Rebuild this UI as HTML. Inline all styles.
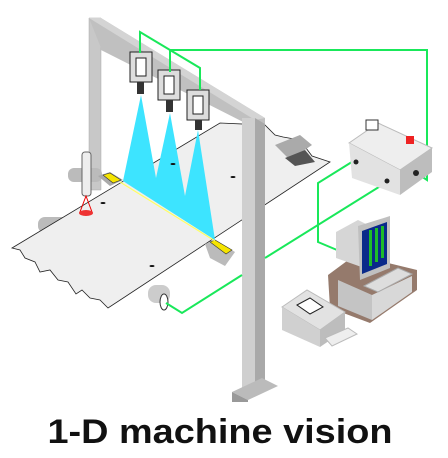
<!DOCTYPE html>
<html><head><meta charset="utf-8"><style>
html,body{margin:0;padding:0;background:#fff;width:448px;height:458px;overflow:hidden}
svg{display:block}
</style></head><body>
<svg width="448" height="458" viewBox="0 0 448 458">
<g>
  <polygon points="89,18 101,18 101,190 89,190" fill="#c8c8c8" stroke="#aaa" stroke-width="0.5"/>
  <polygon points="89,18 101,18 265,118 265,133 101,50 101,48" fill="#c0c0c0"/>
  <polygon points="89,18 101,18 265,118 255,120" fill="#d4d4d4"/>
</g>
<g>
  <rect x="68" y="168" width="34" height="14" rx="6" fill="#bbb"/>
  <rect x="38" y="217" width="30" height="16" rx="7" fill="#bbb"/>
  <rect x="148" y="285" width="22" height="18" rx="8" fill="#ccc"/>
  <ellipse cx="164" cy="302" rx="4" ry="8" fill="#fff" stroke="#333"/>
</g>
<polygon points="12,248 220,123 265,125 275,135 283,137 300,140 312,156 330,162 108,308 100,300 90,298 82,290 76,294 68,282 58,280 50,270 40,272 35,262 25,258 20,250" fill="#efefef" stroke="#222" stroke-width="0.8"/>
<g>
  <polygon points="275,145 300,135 312,145 290,160" fill="#aaa"/>
  <polygon points="285,158 305,150 315,162 295,166" fill="#555"/>
</g>
<g>
  <polygon points="98,176 110,172 123,180 110,186" fill="#aaa"/>
  <polygon points="103,175 110,173 121,180 113,183" fill="#f5e400" stroke="#333" stroke-width="0.6"/>
  <polygon points="205,244 215,240 235,252 225,266 210,258" fill="#bbb"/>
  <polygon points="210,242 215,240 232,250 226,254" fill="#f5e400" stroke="#333" stroke-width="0.6"/>
</g>
<polygon points="123,181 141,95 156,178 170,113 185,196 198,130 215,240" fill="#3de4ff"/>
<line x1="120" y1="182" x2="215" y2="241" stroke="#ffff60" stroke-width="1.2"/>
<g fill="#111">
  <ellipse cx="173" cy="164" rx="2.5" ry="1"/><ellipse cx="233" cy="177" rx="2.5" ry="1"/>
  <ellipse cx="103" cy="203" rx="2.5" ry="1"/><ellipse cx="152" cy="266" rx="2.5" ry="1"/>
</g>
<g>
  <rect x="82" y="152" width="9" height="44" rx="3" fill="#eee" stroke="#666"/>
  <polygon points="86,196 80,212 92,212" fill="none" stroke="#e00"/>
  <ellipse cx="86" cy="213" rx="7" ry="3" fill="#e33"/>
</g>
<g>
  <polygon points="242,118 255,118 255,390 242,390" fill="#cfcfcf"/>
  <polygon points="255,118 265,124 265,390 255,390" fill="#a9a9a9"/>
  <polygon points="232,392 262,378 278,386 248,400" fill="#bbb"/>
  <polygon points="232,392 248,400 248,402 232,402" fill="#999"/>
</g>
<g>
  <g><rect x="130" y="52" width="22" height="30" fill="#ddd" stroke="#222"/><rect x="136" y="58" width="10" height="18" fill="#fff" stroke="#222"/><rect x="137" y="82" width="7" height="12" fill="#333"/></g>
  <g><rect x="158" y="70" width="22" height="30" fill="#ddd" stroke="#222"/><rect x="164" y="76" width="10" height="18" fill="#fff" stroke="#222"/><rect x="166" y="100" width="7" height="12" fill="#333"/></g>
  <g><rect x="187" y="90" width="22" height="30" fill="#ddd" stroke="#222"/><rect x="193" y="96" width="10" height="18" fill="#fff" stroke="#222"/><rect x="195" y="120" width="7" height="10" fill="#333"/></g>
</g>
<g fill="none" stroke="#19e85a" stroke-width="2">
  <polyline points="140,53 140,32 200,68 200,90"/>
  <polyline points="170,72 170,50 427,50 427,180 415,172"/>
  <polyline points="355,160 318,183 318,242 337,250"/>
  <polyline points="387,182 265,258"/>
  <polyline points="242,275 182,313 166,303"/>
  <polyline points="340,302 349,296"/>
</g>
<g>
  <polygon points="349,143 378,123 432,148 400,170" fill="#eee" stroke="#bbb"/>
  <polygon points="349,143 400,170 400,195 352,178" fill="#e2e2e2"/>
  <polygon points="400,170 432,148 432,172 400,195" fill="#bdbdbd"/>
  <rect x="366" y="120" width="12" height="10" fill="#fff" stroke="#333"/>
  <rect x="406" y="136" width="8" height="8" fill="#e22"/>
  <circle cx="356" cy="162" r="2.5" fill="#222"/><circle cx="387" cy="181" r="2.5" fill="#222"/><circle cx="416" cy="173" r="3" fill="#222"/>
</g>
<g>
  <polygon points="328,275 355,255 417,270 417,290 370,323 330,308" fill="#957a6c"/>
  <polygon points="338,280 372,295 372,320 338,306" fill="#c4c4c4"/>
  <polygon points="372,295 412,276 412,292 372,320" fill="#d8d8d8"/>
  <polygon points="336,232 358,220 370,226 370,270 336,258" fill="#d6d6d6"/>
  <polygon points="358,226 390,216 390,268 360,280" fill="#c0c0c0"/>
  <polygon points="362,231 387,222 387,264 362,274" fill="#0a2a8a"/>
  <g fill="#1dbb2a"><rect x="369" y="230" width="3" height="36"/><rect x="375" y="228" width="3" height="34"/><rect x="381" y="226" width="3" height="32"/></g>
  <polygon points="364,286 398,268 412,274 378,292" fill="#ddd" stroke="#aaa"/>
</g>
<g>
  <polygon points="282,307 307,290 345,312 320,330" fill="#e2e2e2" stroke="#bbb"/>
  <polygon points="282,307 320,330 320,347 282,330" fill="#d0d0d0"/>
  <polygon points="320,330 345,312 345,330 320,347" fill="#bdbdbd"/>
  <polygon points="297,305 310,298 323,307 310,314" fill="#fff" stroke="#222"/>
  <polygon points="325,338 348,328 357,334 332,346" fill="#eee" stroke="#bbb"/>
</g>
<text x="220" y="443" text-anchor="middle" font-family="'Liberation Sans', sans-serif" font-weight="bold" font-size="34" fill="#111" textLength="345" lengthAdjust="spacingAndGlyphs">1-D machine vision</text>
</svg>
</body></html>
